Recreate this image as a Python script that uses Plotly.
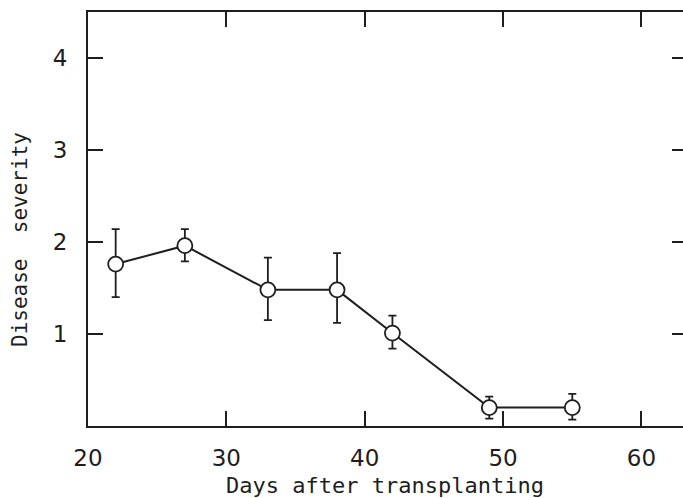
import plotly.graph_objects as go

days = [22, 27, 33, 38, 42, 49, 55]
severity = [1.76, 1.96, 1.48, 1.48, 1.01, 0.20, 0.20]
err_plus = [0.38, 0.18, 0.35, 0.40, 0.19, 0.12, 0.15]
err_minus = [0.36, 0.17, 0.33, 0.36, 0.17, 0.12, 0.13]

x_ticks = [20, 30, 40, 50, 60]
y_ticks = [1, 2, 3, 4]

x_title = "Days after transplanting"
y_title = "Disease  severity"

ink = "#1e1e1e"
font_family = "DejaVu Sans"
title_family = "DejaVu Sans Mono"

L, T, B = 88, 12, 426
PW, PH = 683 - L, B - T

fig = go.Figure()
fig.add_trace(go.Scatter(
    x=days, y=severity,
    mode="lines+markers",
    line=dict(color=ink, width=2),
    marker=dict(symbol="circle", size=15, color="white", line=dict(color=ink, width=1.8)),
    error_y=dict(type="data", symmetric=False, array=err_plus, arrayminus=err_minus,
                 color=ink, thickness=1.8, width=4),
    showlegend=False, hoverinfo="skip",
))
# invisible trace to anchor the right-hand tick axis
fig.add_trace(go.Scatter(
    x=days, y=severity, yaxis="y2", mode="markers",
    marker=dict(opacity=0), showlegend=False, hoverinfo="skip",
))

fig.update_layout(
    width=683, height=498,
    margin=dict(l=L, r=0, t=T, b=498 - B, autoexpand=False),
    paper_bgcolor="white", plot_bgcolor="white",
    font=dict(family=font_family, color=ink),
    xaxis=dict(
        range=[20, 63.0], tickvals=x_ticks, ticktext=[str(v) for v in x_ticks],
        showgrid=False, zeroline=False,
        showline=True, linecolor=ink, linewidth=2, mirror="ticks",
        ticks="inside", ticklen=15, tickwidth=1.8, tickcolor=ink,
        tickfont=dict(size=23, family=font_family, color=ink),
        ticklabelstandoff=10,
    ),
    yaxis=dict(
        range=[0, 4.5], tickvals=y_ticks, ticktext=[str(v) for v in y_ticks],
        showgrid=False, zeroline=False,
        showline=True, linecolor=ink, linewidth=2,
        ticks="inside", ticklen=15, tickwidth=1.8, tickcolor=ink,
        tickfont=dict(size=23, family=font_family, color=ink),
        ticklabelstandoff=14,
    ),
    yaxis2=dict(
        overlaying="y", side="right", matches="y", range=[0, 4.5],
        tickvals=y_ticks, showticklabels=False,
        showgrid=False, zeroline=False, showline=False,
        ticks="inside", ticklen=11, tickwidth=1.8, tickcolor=ink,
    ),
    annotations=[
        dict(text=x_title, xref="paper", yref="paper",
             x=(385 - L) / PW, y=(B - 485) / PH, xanchor="center", yanchor="middle",
             showarrow=False, font=dict(size=22, family=title_family, color=ink)),
        dict(text=y_title, xref="paper", yref="paper",
             x=(20 - L) / PW, y=(B - 240) / PH, xanchor="center", yanchor="middle",
             textangle=-90, showarrow=False,
             font=dict(size=21, family=title_family, color=ink)),
    ],
)

fig.write_html("out.html", config={"displayModeBar": False},
               post_script="document.body.style.margin='0';document.body.style.overflow='hidden';")
